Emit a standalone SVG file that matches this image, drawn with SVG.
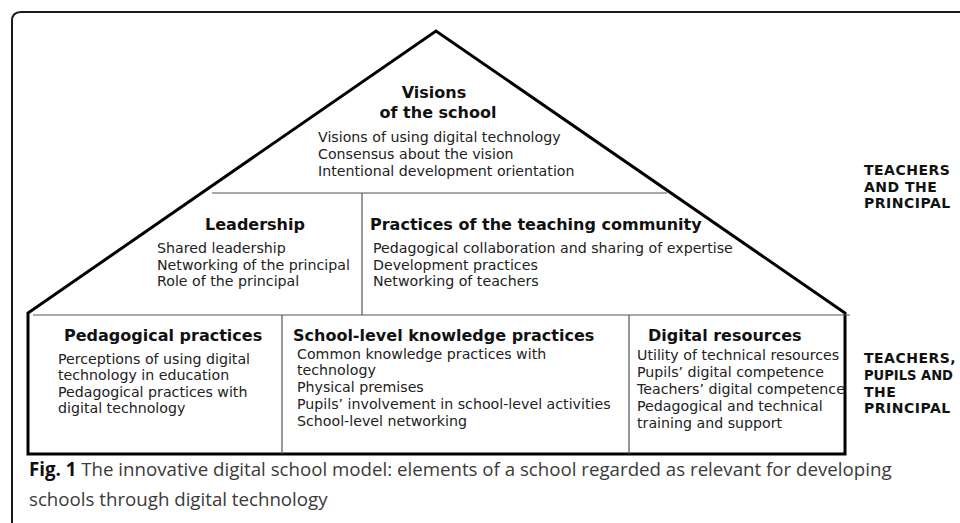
<svg xmlns="http://www.w3.org/2000/svg" width="960" height="523" viewBox="0 0 960 523">
<style>
.frame{fill:none;stroke:#1a1a1a;stroke-width:2}
.house{fill:#fff;stroke:#000;stroke-width:3;stroke-linejoin:miter}
.div{fill:none;stroke:#555;stroke-width:1.2}
.h{font-family:"DejaVu Sans",Verdana,sans-serif;font-weight:bold;font-size:16px;fill:#111}
.b{font-family:"DejaVu Sans",Verdana,sans-serif;font-size:14.2px;fill:#222}
.side{font-family:"DejaVu Sans",Verdana,sans-serif;font-weight:bold;font-size:14px;letter-spacing:0.5px;fill:#111}
.tight{letter-spacing:0}
.cap{font-family:"Open Sans","Liberation Sans",sans-serif;font-size:18.7px;fill:#3a3a3a}
.capb{font-weight:bold;fill:#111}
</style>
<rect width="960" height="523" fill="#fff"/>
<path class="frame" d="M12,523 V21 Q12,12 21,12 H960"/>
<g id="connectors">
<path class="house" d="M28,454 V313 L436,31 L845,313 V454 Z"/>
<path class="div" d="M33,315 H850 M212,193 H667 M362,193 V315 M282,315 V454 M629,315 V454"/>
</g>
<g id="visions">
<text class="h" x="434" y="98" text-anchor="middle">Visions</text>
<text class="h" x="438" y="118" text-anchor="middle">of the school</text>
<text class="b" x="318" y="142">Visions of using digital technology</text>
<text class="b" x="318" y="159">Consensus about the vision</text>
<text class="b" x="318" y="176">Intentional development orientation</text>
</g>
<g id="leadership">
<text class="h" x="255" y="230" text-anchor="middle">Leadership</text>
<text class="b" x="157" y="253">Shared leadership</text>
<text class="b" x="157" y="270">Networking of the principal</text>
<text class="b" x="157" y="286">Role of the principal</text>
</g>
<g id="teaching-community">
<text class="h" x="370" y="230">Practices of the teaching community</text>
<text class="b" x="373" y="253">Pedagogical collaboration and sharing of expertise</text>
<text class="b" x="373" y="270">Development practices</text>
<text class="b" x="373" y="286">Networking of teachers</text>
</g>
<g id="pedagogical-practices">
<text class="h" x="64" y="341">Pedagogical practices</text>
<text class="b" x="58" y="364">Perceptions of using digital</text>
<text class="b" x="58" y="380">technology in education</text>
<text class="b" x="58" y="397">Pedagogical practices with</text>
<text class="b" x="58" y="413">digital technology</text>
</g>
<g id="school-level">
<text class="h" x="293" y="341">School-level knowledge practices</text>
<text class="b" x="297" y="359">Common knowledge practices with</text>
<text class="b" x="297" y="375">technology</text>
<text class="b" x="297" y="392">Physical premises</text>
<text class="b" x="297" y="409">Pupils’ involvement in school-level activities</text>
<text class="b" x="297" y="426">School-level networking</text>
</g>
<g id="digital-resources">
<text class="h" x="648" y="341">Digital resources</text>
<text class="b" x="637" y="360">Utility of technical resources</text>
<text class="b" x="637" y="377">Pupils’ digital competence</text>
<text class="b" x="637" y="394">Teachers’ digital competence</text>
<text class="b" x="637" y="411">Pedagogical and technical</text>
<text class="b" x="637" y="428">training and support</text>
</g>
<g id="label-top">
<text class="side" x="864" y="175">TEACHERS</text>
<text class="side" x="864" y="192">AND THE</text>
<text class="side" x="864" y="208">PRINCIPAL</text>
</g>
<g id="label-bottom">
<text class="side" x="864" y="363">TEACHERS,</text>
<text class="side tight" x="864" y="380" textLength="89" lengthAdjust="spacingAndGlyphs">PUPILS AND</text>
<text class="side" x="864" y="397">THE</text>
<text class="side" x="864" y="413">PRINCIPAL</text>
</g>
<g id="caption">
<text class="cap" x="29" y="476"><tspan class="capb">Fig. 1</tspan> The innovative digital school model: elements of a school regarded as relevant for developing</text>
<text class="cap" x="29" y="506">schools through digital technology</text>
</g>
</svg>
